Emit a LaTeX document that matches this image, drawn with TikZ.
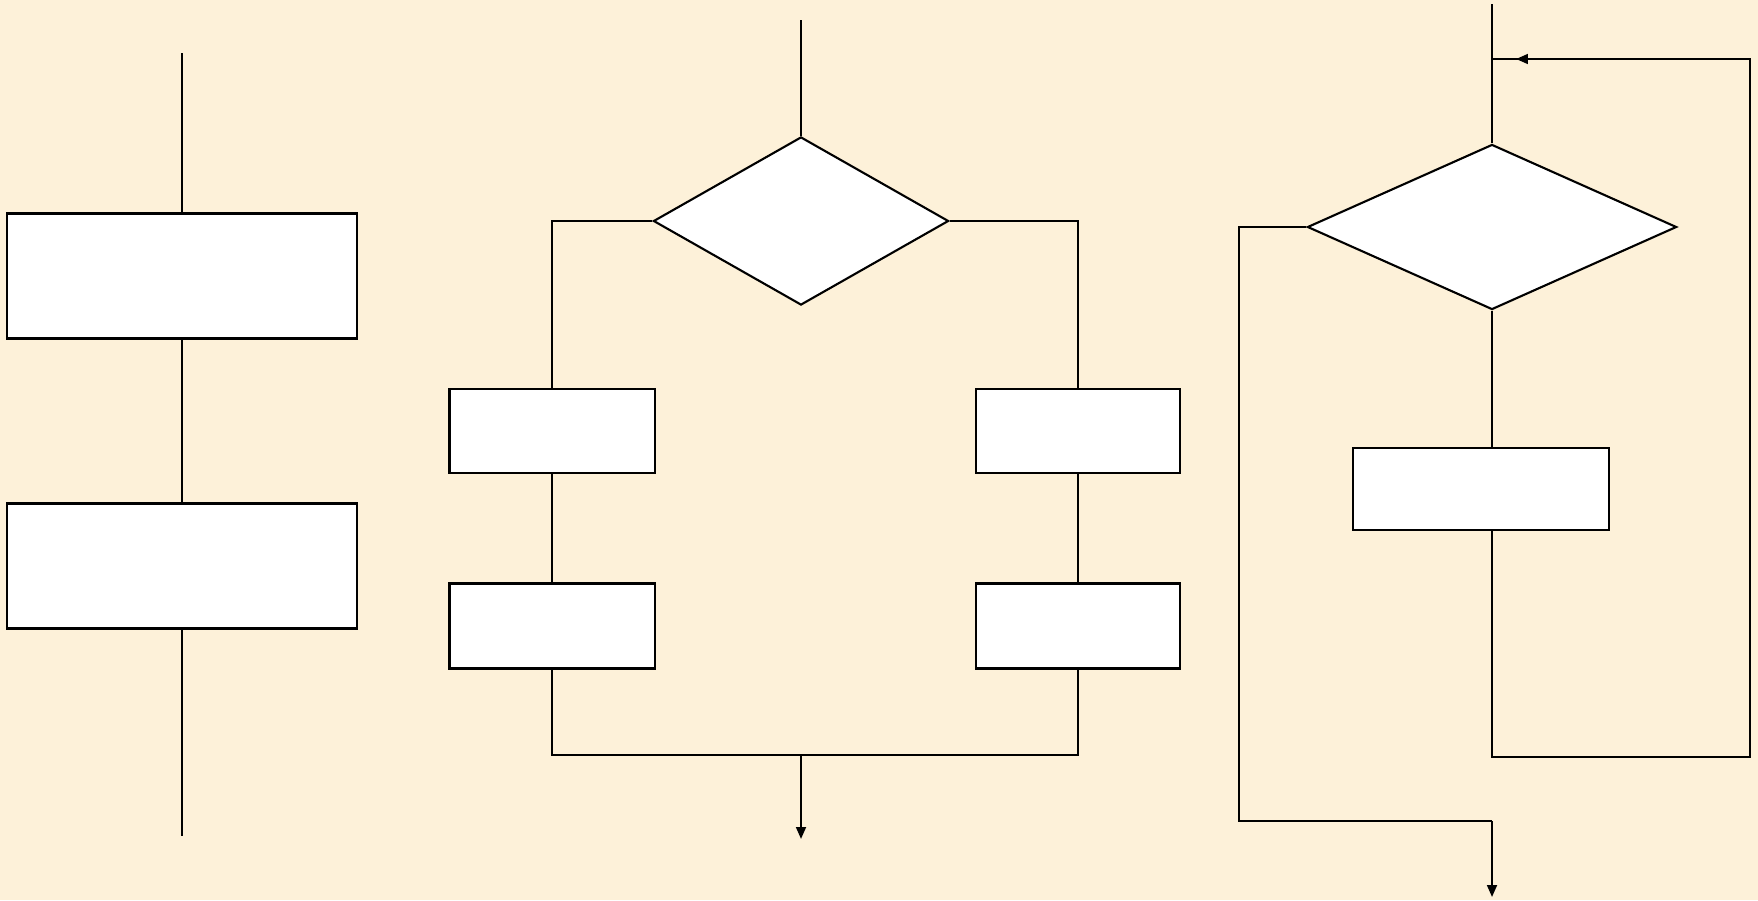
\documentclass[tikz,border=0pt]{standalone}
\usetikzlibrary{shapes.geometric,arrows.meta}
\definecolor{paper}{RGB}{253,241,217}
\begin{document}
\begin{tikzpicture}[x=0.01cm, y=-0.01cm,
    line width=0.6pt,
    proc/.style={draw, fill=white, rectangle, inner sep=0pt},
    cond/.style={draw, fill=white, diamond, inner sep=0pt},
    tip/.style={-{Triangle[length=3.4pt, width=2.8pt]}},
  ]
  \fill[paper] (0,0) rectangle (1758,900);

  % sequence
  \coordinate (s0) at (182,53);
  \coordinate (s3) at (182,836);
  \node[proc, minimum width=3.5cm, minimum height=1.25cm] (s1) at (182,276) {};
  \node[proc, minimum width=3.5cm, minimum height=1.25cm] (s2) at (182,566) {};
  \draw (s0) -- (s1.north);
  \draw (s1) -- (s2);
  \draw (s2.south) -- (s3);

  % selection
  \coordinate (b0) at (801,20);
  \coordinate (bj) at (801,755);
  \coordinate (b9) at (801,839);
  \node[cond, minimum width=2.95cm, minimum height=1.68cm] (bd) at (801,221) {};
  \node[proc, minimum width=2.05cm, minimum height=0.84cm] (l1) at (552,431) {};
  \node[proc, minimum width=2.05cm, minimum height=0.85cm] (l2) at (552,626) {};
  \node[proc, minimum width=2.04cm, minimum height=0.84cm] (r1) at (1078,431) {};
  \node[proc, minimum width=2.04cm, minimum height=0.85cm] (r2) at (1078,626) {};
  \draw (b0) -- (bd.north);
  \draw (bd.west) -| (l1.north);
  \draw (bd.east) -| (r1.north);
  \draw (l1) -- (l2);
  \draw (r1) -- (r2);
  \draw (l2.south) |- (bj) -| (r2.south);
  \draw[tip] (bj) -- (b9);

  % loop
  \coordinate (w0) at (1492,4);
  \coordinate (wr) at (1492,59);
  \coordinate (wa) at (1516,59);
  \coordinate (wb) at (1492,757);
  \coordinate (wc) at (1750,59);
  \coordinate (wx) at (1492,821);
  \coordinate (w9) at (1492,897);
  \node[cond, minimum width=3.69cm, minimum height=1.65cm] (wd) at (1492,227) {};
  \node[proc, minimum width=2.56cm, minimum height=0.82cm] (wp) at (1481,489) {};
  \draw (w0) -- (wd.north);
  \draw (wd.south) -- (wd.south |- wp.north);
  \draw (wd.south |- wp.south) -- (wb) -| (wc) -- (wr);
  \draw[tip] (wc) -- (wa);
  \draw (wd.west) -- (1239,227) |- (wx);
  \draw[tip] (wx) -- (w9);
\end{tikzpicture}
\end{document}
